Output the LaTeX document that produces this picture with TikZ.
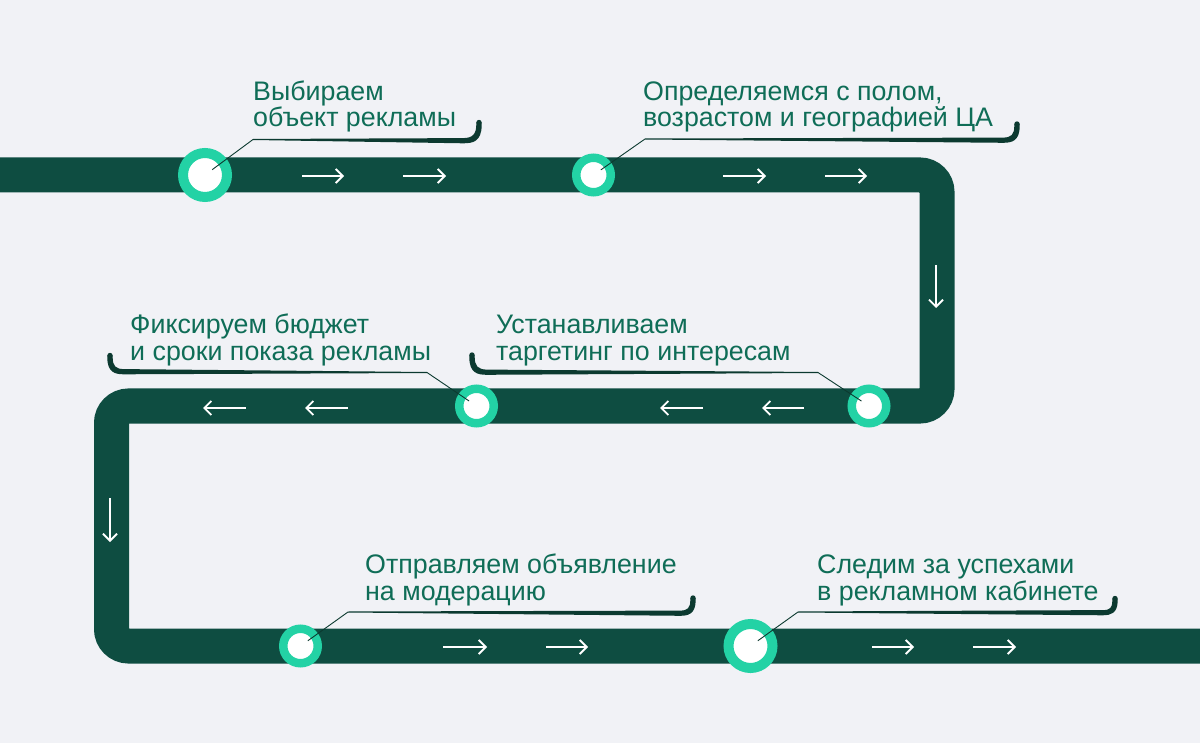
\documentclass[tikz,border=0pt]{standalone}
\usepackage{fontspec}
\setmainfont{Liberation Sans}
\usetikzlibrary{arrows.meta,calc}
\definecolor{bgc}{HTML}{F1F2F6}
\definecolor{trackc}{HTML}{0E4D41}
\definecolor{ringc}{HTML}{23D2A5}
\definecolor{textc}{HTML}{0F6D57}
\definecolor{leadc}{HTML}{0C3A30}
\newcommand{\calloutR}[5]{% xk yk xe ye R : curl to the right
  \fill[leadc] (#1,#2-0.5) -- (#3,#4-2.4) .. controls (#3+0.6*#5,#4-2.4) and (#3+#5-2.7,#4-0.4*#5) .. (#3+#5-2.7,#4-#5) -- (#3+#5-2.7,#4-#5-2)
    -- (#3+#5+2.7,#4-#5-2) -- (#3+#5+2.7,#4-#5) .. controls (#3+#5+2.7,#4+0.1*#5) and (#3+0.6*#5,#4+2.8) .. (#3,#4+2.8) -- (#1,#2+0.5) -- cycle;
  \fill[leadc] (#3+#5,#4-#5-2) circle[radius=2.7];}
\newcommand{\calloutL}[5]{% xk yk xe ye R : curl to the left
  \fill[leadc] (#1,#2-0.5) -- (#3,#4-2.4) .. controls (#3-0.6*#5,#4-2.4) and (#3-#5+2.7,#4-0.4*#5) .. (#3-#5+2.7,#4-#5) -- (#3-#5+2.7,#4-#5-2)
    -- (#3-#5-2.7,#4-#5-2) -- (#3-#5-2.7,#4-#5) .. controls (#3-#5-2.7,#4+0.1*#5) and (#3-0.6*#5,#4+2.8) .. (#3,#4+2.8) -- (#1,#2+0.5) -- cycle;
  \fill[leadc] (#3-#5,#4-#5-2) circle[radius=2.7];}
\begin{document}
\begin{tikzpicture}[x=1pt,y=-1pt,
  bigstop/.style={circle,fill=white,draw=ringc,line width=10pt,minimum size=44pt,inner sep=0pt},
  smallstop/.style={circle,fill=white,draw=ringc,line width=8.5pt,minimum size=34.5pt,inner sep=0pt},
  label/.style={anchor=base west,inner sep=0pt,text=textc,align=left,font=\fontsize{26.8}{26.8}\selectfont},
  flow/.style={white,line width=1.8pt,-{Straight Barb[length=7pt,width=14pt,line width=1.8pt]}},
  thin/.style={leadc,line width=0.9pt,shorten <=9pt}]
\fill[bgc] (0,0) rectangle (1200,743);
\useasboundingbox (0,0) rectangle (1200,743);
% track
\draw[trackc,line width=35pt,rounded corners=17pt] (-20,175) -- (937,175) -- (937,406) -- (111.5,406) -- (111.5,646) -- (1220,646);
% flow arrows
\draw[flow] (302,176) -- (344,176);
\draw[flow] (403,176) -- (446,176);
\draw[flow] (723,176) -- (766,176);
\draw[flow] (825,176) -- (867,176);
\draw[flow] (936,265) -- (936,308);
\draw[flow] (804,408) -- (762,408);
\draw[flow] (703,408) -- (660,408);
\draw[flow] (348,408) -- (305,408);
\draw[flow] (246,408) -- (203,408);
\draw[flow] (110,498) -- (110,542);
\draw[flow] (443,647) -- (487,647);
\draw[flow] (546,647) -- (588,647);
\draw[flow] (872,647) -- (914,647);
\draw[flow] (973,647) -- (1016,647);
% stops
\node[bigstop] (c1) at (205,175) {};
\node[smallstop] (c2) at (593.5,175) {};
\node[smallstop] (c3) at (476.5,406) {};
\node[smallstop] (c4) at (869,406) {};
\node[smallstop] (c5) at (300.5,646) {};
\node[bigstop] (c6) at (750.5,646) {};
% leader bend points
\coordinate (k1) at (253,139.5);
\coordinate (k2) at (645,139);
\coordinate (k3) at (427,372.5);
\coordinate (k4) at (818,372.5);
\coordinate (k5) at (348,612);
\coordinate (k6) at (798,612);
\draw[thin] (c1.center) -- (k1);
\draw[thin] (c2.center) -- (k2);
\draw[thin] (c3.center) -- (k3);
\draw[thin] (c4.center) -- (k4);
\draw[thin] (c5.center) -- (k5);
\draw[thin] (c6.center) -- (k6);
\calloutR{253}{139.5}{463}{140.5}{16}
\calloutR{645}{139}{1003}{140}{14}
\calloutL{427}{372.5}{124}{371.5}{14}
\calloutL{818}{372.5}{487}{372}{15}
\calloutR{348}{612}{680}{613}{13}
\calloutR{798}{612}{1103}{612.5}{12}
% labels (anchor at baseline of the last line)
\node[label] (t1) at (253,127) {Выбираем\\объект рекламы};
\node[label] (t2) at (643,127) {Определяемся с полом,\\возрастом и географией ЦА};
\node[label] (t3) at (130,360) {Фиксируем бюджет\\и сроки показа рекламы};
\node[label] (t4) at (496,360) {Устанавливаем\\таргетинг по интересам};
\node[label] (t5) at (365,600) {Отправляем объявление\\на модерацию};
\node[label] (t6) at (817,600) {Следим за успехами\\в рекламном кабинете};
\end{tikzpicture}
\end{document}
